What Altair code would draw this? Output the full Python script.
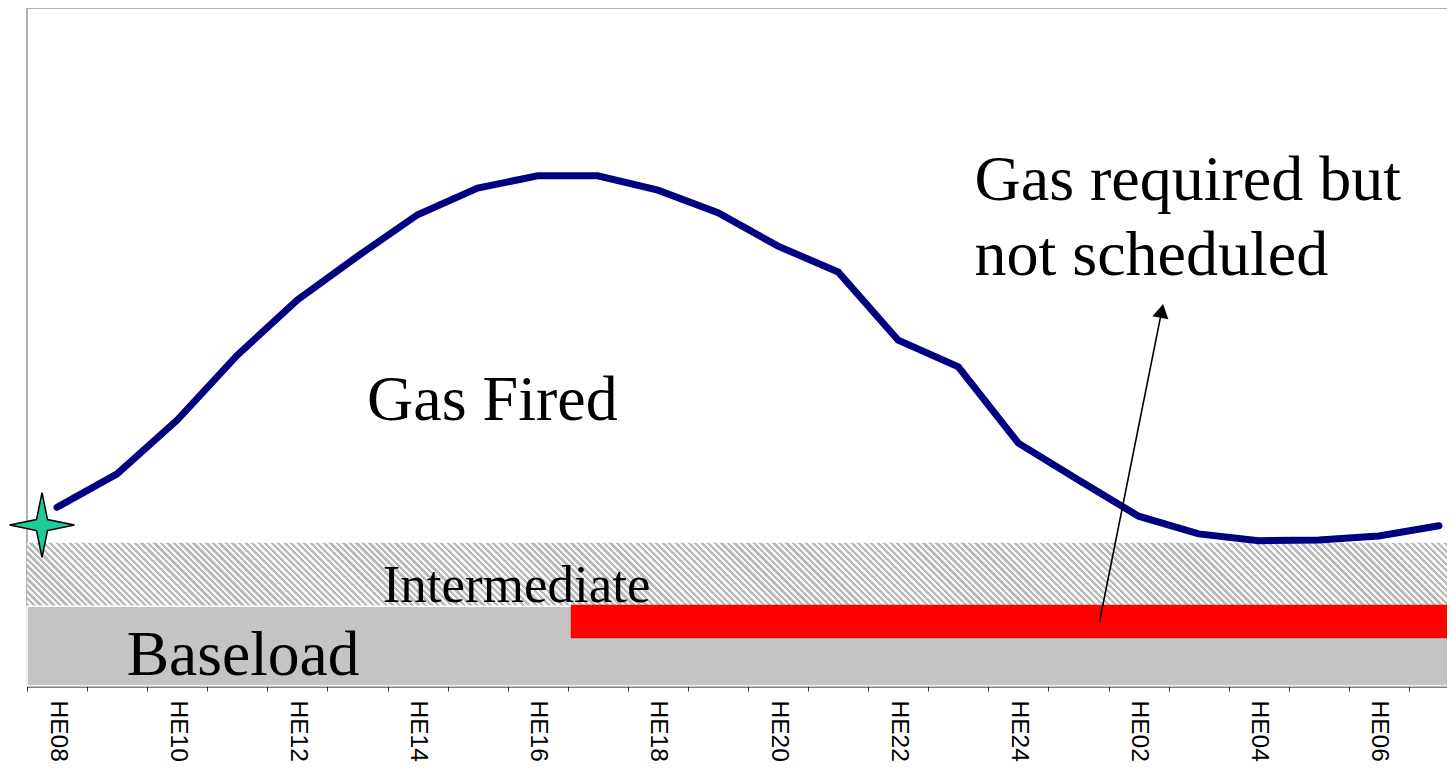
import altair as alt
import pandas as pd

# ---- data -------------------------------------------------------------
hours = ["HE08", "HE09", "HE10", "HE11", "HE12", "HE13", "HE14", "HE15",
         "HE16", "HE17", "HE18", "HE19", "HE20", "HE21", "HE22", "HE23",
         "HE24", "HE01", "HE02", "HE03", "HE04", "HE05", "HE06", "HE07"]
gas_fired = [26.2, 31.1, 39.0, 48.5, 56.6, 63.0, 69.1, 73.0,
             74.8, 74.8, 72.7, 69.4, 64.5, 60.7, 50.7, 46.8,
             35.6, 30.2, 24.9, 22.3, 21.3, 21.4, 22.0, 23.5]

block_names = ["Intermediate", "Baseload", "Gas required but not scheduled"]
block_start = [0.0, 0.0, 9.05]
block_end = [24.0, 24.0, 24.0]
block_low = [11.7, 0.0, 7.0]
block_high = [21.0, 11.7, 11.9]

star_x = [0.25]
star_y = [23.6]

arrow_x0 = [17.85]
arrow_y0 = [9.4]
arrow_x1 = [18.886]
arrow_y1 = [55.0]

# ---- styles -----------------------------------------------------------
YMAX = 99.41
PLOT_W = 1442
PLOT_H = 678
xq = alt.Scale(domain=[0, 24], nice=False, zero=False)
yq = alt.Scale(domain=[0, YMAX], nice=False, zero=True)

line_df = pd.DataFrame({"hour": hours, "gas": gas_fired})
blocks_df = pd.DataFrame({"name": block_names, "start": block_start,
                          "end": block_end, "low": block_low,
                          "high": block_high})
star_df = pd.DataFrame({"x": star_x, "y": star_y})
arrow_df = pd.DataFrame({"x0": arrow_x0, "y0": arrow_y0,
                         "x1": arrow_x1, "y1": arrow_y1})

# diagonal hatch for the "Intermediate" band, built as a striped gradient
band_h = (block_high[0] - block_low[0]) / YMAX * PLOT_H
r = band_h / PLOT_W
a = (1 + r) / (1 + r * r)
span_px = (PLOT_W + band_h) / 2 ** 0.5
period = 4.6
n = int(span_px / period)
stops = []
for k in range(n):
    o0 = k / n
    o1 = (k + 0.5) / n
    o2 = (k + 1) / n
    stops += [alt.GradientStop(offset=o0, color="#bababa"),
              alt.GradientStop(offset=o1, color="#bababa"),
              alt.GradientStop(offset=o1, color="#f6f6f6"),
              alt.GradientStop(offset=o2, color="#f6f6f6")]
hatch = alt.LinearGradient(gradient="linear", stops=stops,
                           x1=0, y1=1, x2=a, y2=1 - a * r)


def block(name, fill, **kw):
    return alt.Chart(blocks_df).transform_filter(
        alt.datum.name == name
    ).mark_rect(fill=fill, **kw).encode(
        x=alt.X("start:Q", scale=xq, axis=None),
        x2="end:Q",
        y=alt.Y("low:Q", scale=yq, axis=None),
        y2="high:Q",
    )


blocks = alt.layer(
    block("Intermediate", hatch),
    block("Baseload", "#c4c4c4", stroke="white", strokeWidth=1.5),
    block("Gas required but not scheduled", "#ff0000"),
)

label_expr = ("toNumber(substring(datum.value, 2)) % 2 == 0 ? "
              "datum.value : ''")

line = alt.Chart(line_df).mark_line(
    color="#000080", strokeWidth=7, strokeCap="round", strokeJoin="miter"
).encode(
    x=alt.X("hour:N", sort=hours, bandPosition=0.5,
            scale=alt.Scale(type="band", paddingInner=0, paddingOuter=0),
            axis=alt.Axis(title=None, labelAngle=90, labelAlign="left",
                          labelBaseline="middle", labelFont="Liberation Sans",
                          labelFontSize=24.5, labelColor="black",
                          labelPadding=9, labelOverlap=False,
                          tickBand="extent", tickSize=5, tickColor="#333333",
                          tickWidth=1, domainColor="black", domainWidth=2,
                          labelExpr=label_expr, grid=False)),
    y=alt.Y("gas:Q", scale=yq,
            axis=alt.Axis(title=None, labels=False, ticks=False, grid=False,
                          domainColor="black", domainWidth=2)),
)

star_path = ("M0,-1L0.17,-0.17L1,0L0.17,0.17L0,1L-0.17,0.17L-1,0"
             "L-0.17,-0.17Z")
star = alt.Chart(star_df).mark_point(
    shape=star_path, size=4200, filled=True, fill="#1fcc99",
    stroke="black", strokeWidth=1.5, opacity=1
).encode(
    x=alt.X("x:Q", scale=xq, axis=None),
    y=alt.Y("y:Q", scale=yq, axis=None),
)

arrow = alt.Chart(arrow_df).mark_rule(color="black", strokeWidth=1.6).encode(
    x=alt.X("x0:Q", scale=xq, axis=None),
    y=alt.Y("y0:Q", scale=yq, axis=None),
    x2="x1:Q",
    y2="y1:Q",
)
head = alt.Chart(arrow_df).mark_point(
    shape="triangle-up", size=260, filled=True, color="black", opacity=1,
    angle=11
).encode(
    x=alt.X("x1:Q", scale=xq, axis=None),
    y=alt.Y("y1:Q", scale=yq, axis=None),
)


def label(text, x, y, size):
    return alt.Chart(pd.DataFrame({"t": [0]})).mark_text(
        text=text, font="Liberation Serif", fontSize=size, color="black",
        align="left", baseline="alphabetic", lineHeight=75
    ).encode(
        x=alt.X(datum=x, type="quantitative", scale=xq, axis=None),
        y=alt.Y(datum=y, type="quantitative", scale=yq, axis=None),
    )


texts = alt.layer(
    label("Gas Fired", 5.66, 39.0, 64),
    label(["Gas required but", "not scheduled"], 15.77, 71.3, 64),
    label("Intermediate", 5.92, 12.3, 53),
    label("Baseload", 1.66, 1.6, 63.5),
)

annot = alt.layer(star, arrow, head, texts)

chart = alt.layer(blocks, line, annot).resolve_scale(
    x="independent"
).properties(
    width=PLOT_W, height=PLOT_H,
    autosize=alt.AutoSizeParams(type="none"),
    padding={"left": 19, "top": 0, "right": -22, "bottom": 78},
).configure_view(stroke="#9a9a9a", strokeWidth=1.5)

chart.save("out.html", embed_options={"renderer": "svg", "actions": False})
